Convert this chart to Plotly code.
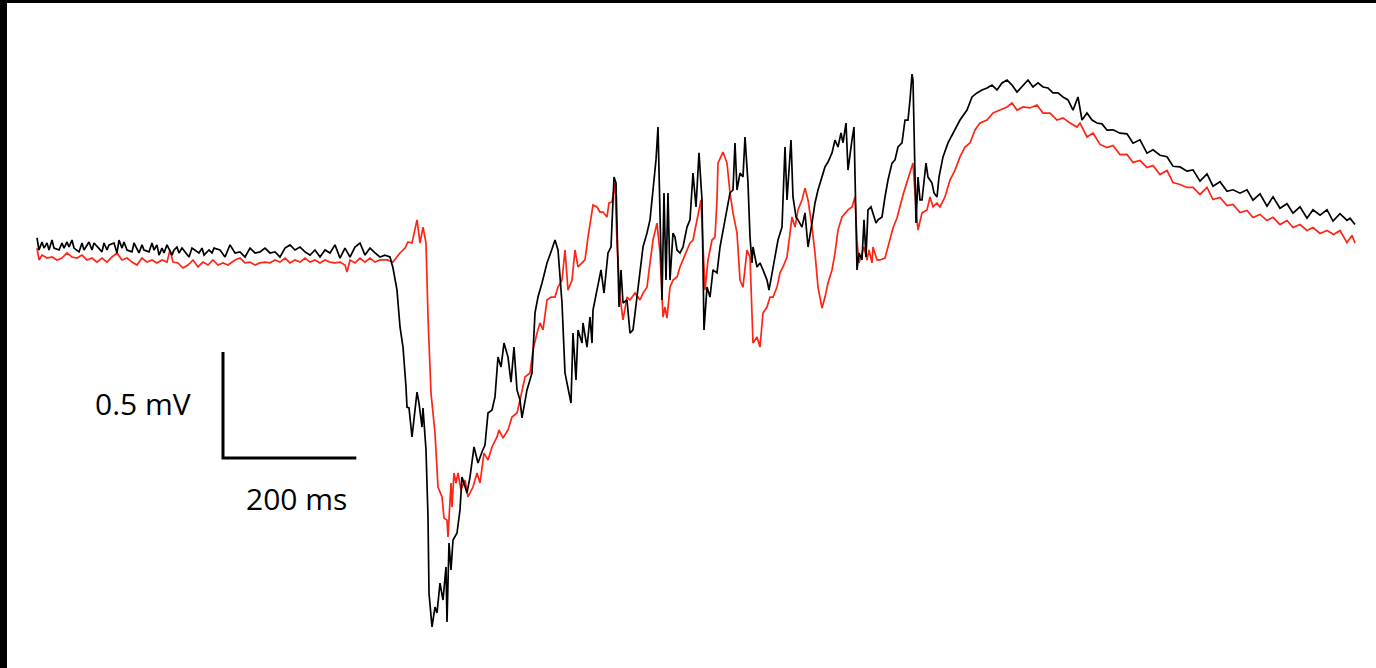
import plotly.graph_objects as go

# ---- data (time in ms, potential in microvolts) ----
black_trace = [(0,57),(3,0),(7.5,38),(10.5,9),(15,33),(18,0),(22.5,47),(25.5,9),(33,0),(37.5,33),(40.5,9),(45,38),(48,14),(52.5,47),(55.5,9),(63,-9),(67.5,33),(70.5,0),(78,38),(82.5,0),(85.5,33),(97.5,-9),(100.5,33),(105,0),(108,24),(115.5,33),(120,-14),(123,47),(127.5,9),(130.5,38),(135,0),(142.5,-9),(145.5,33),(153,-14),(157.5,24),(160.5,0),(168,-9),(172.5,33),(175.5,0),(180,24),(183,-24),(187.5,9),(190.5,-14),(195,24),(202.5,-24),(205.5,0),(210,14),(213,-14),(217.5,9),(228,-33),(232.5,9),(243,-14),(247.5,9),(250.5,-24),(258,0),(262.5,-14),(265.5,9),(274.5,0),(282,-33),(289.5,24),(297,-14),(304.5,-9),(312,-33),(319.5,9),(327,-14),(334.5,-9),(342,9),(349.5,-14),(357,-9),(364.5,-33),(372,9),(379.5,24),(387,0),(394.5,14),(402,-9),(409.5,-24),(417,0),(424.5,-33),(432,0),(439.5,-14),(447,24),(454.5,-38),(462,9),(469.5,-33),(477,14),(484.5,33),(492,-24),(499.5,9),(507,-14),(514.5,-33),(522,-24),(529.5,-33),(534,-85),(540,-189),(544.5,-363),(549,-458),(553.5,-646),(555,-741),(558,-745),(562.5,-882),(570,-670),(573,-722),(577.5,-835),(579,-745),(583.5,-943),(586.5,-1259),(588,-1618),(592.5,-1778),(597,-1684),(600,-1712),(604.5,-1571),(609,-1651),(613.5,-1495),(615,-1755),(618,-1382),(621,-1509),(624,-1368),(630,-1335),(634.5,-1226),(637.5,-1071),(645,-1146),(649.5,-1071),(655.5,-929),(661.5,-1005),(667.5,-953),(672,-920),(676.5,-769),(682.5,-755),(687,-693),(691.5,-505),(696,-552),(700.5,-439),(706.5,-505),(711,-623),(715.5,-458),(720,-660),(724.5,-708),(727.5,-792),(735,-660),(742.5,-580),(747,-297),(751.5,-222),(757.5,-156),(765,-61),(771,-9),(777,47),(781.5,0),(787.5,-250),(792,-580),(796.5,-646),(801,-722),(804,-392),(808.5,-613),(811.5,-377),(817.5,-439),(819,-344),(825,-458),(829.5,-316),(832.5,-439),(834,-283),(841.5,-175),(846,-94),(850.5,-203),(856.5,-14),(861,14),(865.5,344),(868.5,316),(873,-269),(876,-94),(879,-250),(885,-236),(889.5,-392),(894,-377),(900,-222),(904.5,-80),(909,14),(915,80),(919.5,142),(924,283),(928.5,425),(931.5,580),(934.5,236),(937.5,-236),(940.5,269),(943.5,-142),(946.5,269),(949.5,-142),(954,80),(957,61),(960,0),(964.5,-14),(969,14),(975,108),(979.5,142),(984,363),(988.5,203),(993,458),(997.5,236),(1000.5,-377),(1005,-175),(1009.5,-222),(1014,-94),(1020,-108),(1024.5,14),(1029,94),(1035,189),(1039.5,269),(1044,283),(1047,505),(1050,283),(1054.5,363),(1059,344),(1062,533),(1066.5,316),(1069.5,61),(1072.5,-61),(1074,14),(1080,-80),(1084.5,-61),(1089,-94),(1095,-142),(1098,-189),(1102.5,-108),(1107,-47),(1111.5,47),(1117.5,108),(1122,486),(1125,236),(1131,519),(1134,250),(1138.5,156),(1141.5,142),(1147.5,108),(1152,175),(1156.5,14),(1162.5,127),(1167,222),(1171.5,283),(1177.5,344),(1182,392),(1186.5,415),(1192.5,458),(1197,519),(1201.5,486),(1206,552),(1209,505),(1213.5,599),(1216.5,377),(1222.5,519),(1225.5,580),(1230,-94),(1233,-14),(1237.5,-47),(1240.5,142),(1243.5,-33),(1246.5,189),(1251,203),(1254,175),(1258.5,127),(1261.5,142),(1267.5,156),(1272,250),(1276.5,330),(1282.5,410),(1287,425),(1291.5,486),(1297.5,505),(1302,613),(1306.5,613),(1309.5,708),(1312.5,830),(1314,802),(1318.5,127),(1321.5,344),(1324.5,236),(1327.5,236),(1333.5,410),(1336.5,344),(1342.5,316),(1345.5,269),(1350,250),(1353,344),(1359,439),(1366.5,505),(1374,552),(1384.5,613),(1395,660),(1402.5,722),(1410,741),(1417.5,755),(1425,764),(1432.5,778),(1440,755),(1447.5,788),(1455,802),(1462.5,778),(1470,745),(1477.5,769),(1486.5,802),(1494,769),(1501.5,788),(1509,769),(1516.5,764),(1524,741),(1531.5,741),(1539,722),(1546.5,708),(1554,660),(1561.5,722),(1567.5,613),(1575,646),(1582.5,613),(1590,599),(1597.5,595),(1605,565),(1614,567),(1624.5,551),(1635,548),(1644,504),(1654.5,520),(1665,457),(1674,473),(1684.5,447),(1695,440),(1704,395),(1714.5,392),(1725,372),(1734,378),(1744.5,325),(1755,359),(1764,301),(1774.5,322),(1785,277),(1794,284),(1804.5,268),(1815,284),(1824,235),(1834.5,265),(1845,207),(1854,251),(1864.5,197),(1875,218),(1884,174),(1894.5,204),(1905,150),(1914,190),(1924.5,164),(1935,190),(1944,136),(1954.5,171),(1965,140),(1969.5,150),(1977,120)]

red_trace = [(0,9),(3,-47),(7.5,-24),(15,-38),(22.5,-33),(30,-47),(37.5,-38),(45,-14),(52.5,-33),(60,-38),(67.5,-24),(75,-47),(82.5,-38),(90,-57),(97.5,-38),(105,-57),(112.5,-33),(120,-14),(127.5,-47),(135,-38),(142.5,-57),(150,-71),(157.5,-38),(165,-57),(172.5,-47),(180,-61),(187.5,-47),(195,-57),(199.5,0),(204,-57),(211.5,-61),(219,-85),(226.5,-71),(234,-47),(241.5,-80),(249,-57),(256.5,-71),(264,-47),(271.5,-71),(279,-61),(286.5,-71),(297,-47),(304.5,-38),(312,-61),(319.5,-57),(327,-71),(334.5,-61),(342,-57),(349.5,-61),(357,-47),(364.5,-57),(372,-38),(379.5,-61),(387,-47),(394.5,-57),(402,-38),(409.5,-57),(417,-47),(424.5,-61),(432,-47),(439.5,-57),(447,-61),(454.5,-57),(462,-71),(465,-104),(469.5,-47),(477,-61),(484.5,-38),(492,-57),(499.5,-38),(507,-57),(514.5,-47),(525,-47),(534,-57),(544.5,-14),(552,9),(556.5,38),(562.5,33),(570,142),(574.5,33),(579,108),(583.5,33),(586.5,-316),(591,-675),(597,-863),(601.5,-1118),(607.5,-1165),(610.5,-1264),(615,-1274),(616.5,-1354),(621,-1099),(622.5,-1212),(625.5,-1052),(628.5,-1099),(631.5,-1052),(636,-1132),(642,-1085),(646.5,-1165),(654,-1118),(660,-1052),(664.5,-1099),(670.5,-958),(676.5,-991),(682.5,-929),(690,-882),(693,-849),(699,-887),(706.5,-849),(712.5,-788),(720,-769),(724.5,-708),(732,-599),(739.5,-580),(744,-472),(750,-392),(754.5,-344),(759,-377),(765,-236),(771,-222),(777,-222),(781.5,-175),(787.5,-142),(792,0),(796.5,-189),(802.5,-142),(807,0),(811.5,-80),(817.5,-61),(822,-47),(826.5,61),(834,212),(840,203),(844.5,179),(849,179),(855,156),(858,222),(862.5,226),(867,316),(870,33),(874.5,-222),(879,-330),(885,-222),(889.5,-236),(897,-203),(904.5,-236),(909,-203),(915,-175),(919.5,-61),(924,47),(930,127),(934.5,-14),(939,-316),(942,-269),(945,-321),(949.5,-175),(954,-142),(960,-127),(964.5,-80),(969,-47),(975,0),(979.5,33),(984,47),(990,142),(996,236),(1002,-189),(1006.5,-47),(1012.5,47),(1017,61),(1020,236),(1021.5,410),(1029,462),(1035,410),(1039.5,269),(1044,175),(1050,80),(1054.5,-142),(1059,-175),(1065,0),(1069.5,-33),(1074,-439),(1080,-410),(1084.5,-458),(1089,-297),(1095,-269),(1099.5,-222),(1104,-222),(1110,-175),(1114.5,-108),(1119,-80),(1125,-33),(1129.5,80),(1132.5,156),(1137,108),(1141.5,189),(1147.5,236),(1152,292),(1156.5,236),(1162.5,108),(1167,-14),(1171.5,-175),(1177.5,-274),(1182,-222),(1186.5,-156),(1192.5,-94),(1197,-14),(1201.5,94),(1207.5,156),(1212,175),(1216.5,189),(1222.5,203),(1227,250),(1230,47),(1233,-61),(1237.5,-14),(1240.5,14),(1245,-47),(1248,0),(1252.5,-61),(1254,14),(1260,-47),(1264.5,-47),(1272,-38),(1279.5,47),(1284,104),(1290,151),(1294.5,212),(1299,259),(1305,321),(1309.5,368),(1314,410),(1318.5,203),(1321.5,94),(1327.5,175),(1335,189),(1339.5,250),(1344,203),(1350,222),(1354.5,203),(1362,250),(1369.5,330),(1377,377),(1384.5,439),(1392,486),(1399.5,505),(1407,566),(1414.5,599),(1425,613),(1434,646),(1444.5,660),(1455,675),(1462.5,693),(1470,660),(1479,675),(1489.5,670),(1500,684),(1509,646),(1519.5,646),(1530,613),(1539,623),(1549.5,599),(1560,580),(1564.5,599),(1575,533),(1584,552),(1594.5,498),(1605,483),(1614,493),(1624.5,450),(1635,451),(1644,413),(1654.5,422),(1665,389),(1674,399),(1684.5,356),(1695,375),(1704,318),(1714.5,309),(1725,295),(1734,295),(1744.5,262),(1755,295),(1764,238),(1774.5,248),(1785,210),(1794,215),(1804.5,177),(1815,187),(1824,153),(1834.5,168),(1845,139),(1854,154),(1864.5,120),(1875,139),(1884,106),(1894.5,120),(1905,92),(1914,106),(1924.5,78),(1935,92),(1945,73),(1954.5,92),(1965,35),(1972.5,69),(1977,33)]

black_t_ms = [p[0] for p in black_trace]
black_uv = [p[1] for p in black_trace]
red_t_ms = [p[0] for p in red_trace]
red_uv = [p[1] for p in red_trace]

# scale bar
scale_time_ms = 200
scale_volt_uv = 500
scale_time_label = "200 ms"
scale_volt_label = "0.5 mV"
scale_origin_t = 279
scale_origin_v = -981

fig = go.Figure()
fig.add_trace(go.Scatter(x=red_t_ms, y=red_uv, mode="lines",
                         line=dict(color="#ff2414", width=1.7), hoverinfo="skip"))
fig.add_trace(go.Scatter(x=black_t_ms, y=black_uv, mode="lines",
                         line=dict(color="#000000", width=1.7), hoverinfo="skip"))
fig.add_trace(go.Scatter(
    x=[scale_origin_t, scale_origin_t, scale_origin_t + scale_time_ms],
    y=[scale_origin_v + scale_volt_uv, scale_origin_v, scale_origin_v],
    mode="lines", line=dict(color="#000000", width=3), hoverinfo="skip"))

fig.add_annotation(x=scale_origin_t - 120, y=scale_origin_v + 259, text=scale_volt_label,
                   showarrow=False, font=dict(family="Open Sans", size=30, color="#000"))
fig.add_annotation(x=scale_origin_t + 110, y=scale_origin_v - 189, text=scale_time_label,
                   showarrow=False, font=dict(family="Open Sans", size=30, color="#000"))

# black frame edges at top and left
fig.add_shape(type="rect", xref="paper", yref="paper", x0=0, x1=1, y0=1 - 3/668, y1=1,
              fillcolor="#000", line=dict(width=0), layer="above")
fig.add_shape(type="rect", xref="paper", yref="paper", x0=0, x1=7/1376, y0=0, y1=1,
              fillcolor="#000", line=dict(width=0), layer="above")

fig.update_layout(
    width=1376, height=668, showlegend=False,
    margin=dict(l=0, r=0, t=0, b=0),
    paper_bgcolor="white", plot_bgcolor="white",
    xaxis=dict(range=[-55.5, 2008.5], visible=False, fixedrange=True),
    yaxis=dict(range=[-1971.7, 1179.25], visible=False, fixedrange=True),
)
fig.write_html("out.html", config={"displayModeBar": False},
               post_script="document.body.style.margin='0';document.body.style.overflow='hidden';")
